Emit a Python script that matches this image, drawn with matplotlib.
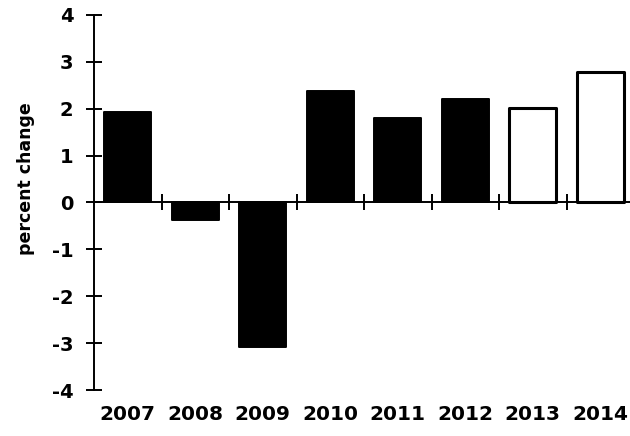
import numpy as np
import matplotlib
matplotlib.use('Agg')
import matplotlib.pyplot as plt

# annual percent change; last two years are forecasts
years = ['2007', '2008', '2009', '2010', '2011', '2012', '2013', '2014']
pct_change = [1.92, -0.37, -3.08, 2.38, 1.80, 2.20, 2.02, 2.78]
is_forecast = [False, False, False, False, False, False, True, True]

plt.rcParams['font.family'] = 'DejaVu Sans'
plt.rcParams['font.weight'] = 'bold'
plt.rcParams['axes.unicode_minus'] = False

fig = plt.figure(figsize=(6.3, 4.36), dpi=100)
ax = fig.add_axes([94/630, 46/436, 536/630, 375/436])

x = np.arange(len(years))
face = ['white' if f else 'black' for f in is_forecast]
lw = [2.2 if f else 1.4 for f in is_forecast]
ax.bar(x, pct_change, width=0.70, color=face, edgecolor='black',
       linewidth=lw, joinstyle='round', zorder=2)

ax.set_xlim(-0.5, 7.44)
ax.set_ylim(-4, 4)

for s in ['top', 'right']:
   ax.spines[s].set_visible(False)
ax.spines['left'].set_linewidth(1.4)
ax.spines['bottom'].set_position(('data', 0))
ax.spines['bottom'].set_linewidth(1.4)
ax.spines['bottom'].set_zorder(3)

# ticks on the zero line sit between bars
ax.set_xticks(x[:-1] + 0.5)
ax.tick_params(axis='x', direction='inout', length=11, width=1.4, labelbottom=False)

ax.set_yticks(range(-4, 5))
ax.tick_params(axis='y', direction='inout', length=11.5, width=1.4, pad=9, labelsize=14)
for t in ax.get_yticklabels():
   t.set_fontweight('bold')

# year labels along the bottom of the plot
sec = ax.secondary_xaxis('bottom')
sec.spines['bottom'].set_visible(False)
sec.set_xticks(x, labels=years)
sec.tick_params(axis='x', length=0, pad=11, labelsize=14.5)
for t in sec.get_xticklabels():
   t.set_fontweight('bold')

ax.set_ylabel('percent change', fontsize=12.5, fontweight='bold')
ax.yaxis.set_label_coords(-0.110, 0.565)

plt.savefig('out.png', dpi=100)
